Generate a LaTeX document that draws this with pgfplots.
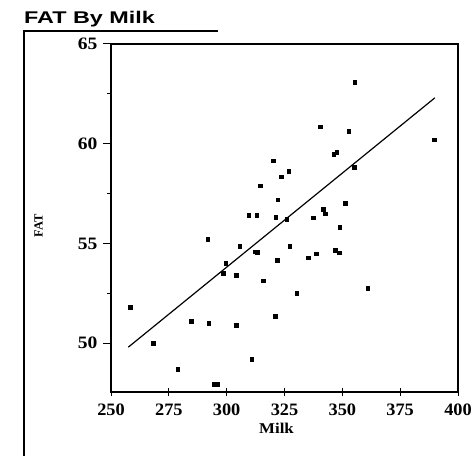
\documentclass[border=0pt]{standalone}
\usepackage{fontspec}
\setmainfont{Liberation Serif}
\newfontfamily\tickf{Liberation Serif Bold}
\newfontfamily\sansf{Liberation Sans Bold}
\usepackage{pgfplots}
\pgfplotsset{compat=1.18}
\begin{document}
\begin{tikzpicture}
\useasboundingbox (-111bp,-64bp) rectangle (364bp,392bp);
\begin{axis}[
  at={(0,0)}, anchor=south west,
  scale only axis, width=347bp, height=348bp,
  xmin=250, xmax=400, ymin=47.55, ymax=65,
  xtick={250,275,...,400}, ytick={50,55,60,65},
  minor ytick={52.5,57.5,62.5},
  axis line style={line width=1.1pt},
  major tick length=8bp, minor tick length=4bp,
  tick style={line width=1pt, black},
  xtick align=center, ytick align=outside,
  xtick pos=bottom, ytick pos=left,
  ticklabel style={font=\tickf\fontsize{17.5}{18}\selectfont},
  xticklabel={\scalebox{1.05}[1]{\pgfmathprintnumber[assume math mode=true,1000 sep={}]{\tick}}},
  yticklabel={\scalebox{1.12}[1]{\pgfmathprintnumber[assume math mode=true]{\tick}}},
  xticklabel style={yshift=-4bp},
  yticklabel style={xshift=-2bp},
  xlabel={\scalebox{1.13}[1]{Milk}}, ylabel={FAT},
  xlabel style={font=\tickf\fontsize{15}{16}\selectfont, at={(axis description cs:0.477,-0.103)}, anchor=center},
  ylabel style={font=\tickf\fontsize{12.5}{14}\selectfont, at={(axis description cs:-0.209,0.477)}, anchor=center},
]
\addplot[only marks, mark=square*, mark size=1.8bp, black] table {
x y
258.2 51.8
268.3 50.0
278.8 48.7
284.6 51.1
291.8 55.2
292.3 51.0
294.5 47.95
295.8 47.95
299.5 54.0
298.5 53.5
304.0 53.4
304.0 50.9
305.7 54.85
310.8 49.2
309.5 56.42
312.9 56.42
312.2 54.58
313.2 54.55
314.5 57.9
320.1 59.15
323.7 58.35
326.8 58.62
322.0 57.2
321.2 56.32
326.0 56.2
321.8 54.15
315.8 53.14
327.3 54.86
330.2 52.5
321.0 51.34
337.3 56.3
341.7 56.72
342.6 56.5
335.2 54.28
338.8 54.48
346.8 54.65
348.7 54.54
348.8 55.8
351.3 57.02
346.3 59.48
347.6 59.58
340.4 60.86
352.8 60.62
355.3 63.07
355.1 58.82
389.6 60.2
360.9 52.76
};
\addplot[black, line width=1.2pt] coordinates {(257.5,49.8) (390,62.3)};
\end{axis}
\draw[line width=1.3bp] (-87bp,-64bp) -- (-87bp,361bp) -- (107bp,361bp);
\node[anchor=base west, inner sep=0pt] at (-87bp,368bp)
  {\scalebox{1.38}[1]{\sansf\fontsize{17}{18}\selectfont FAT By Milk}};
\end{tikzpicture}
\end{document}
